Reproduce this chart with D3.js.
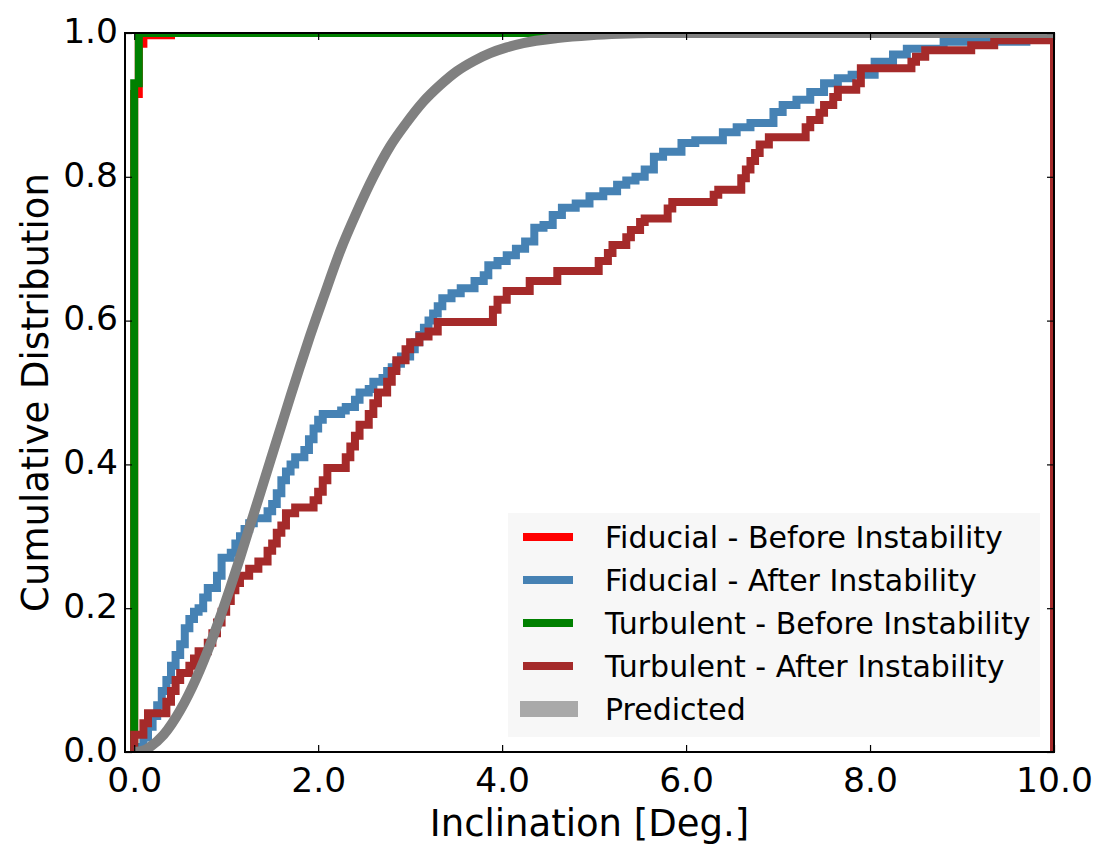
<!DOCTYPE html>
<html>
<head>
<meta charset="utf-8">
<script src="https://cdn.jsdelivr.net/npm/d3@7"></script>
<style>
  body { margin: 0; background: #fff; }
  svg { display: block; font-family: "DejaVu Sans", sans-serif; }
</style>
</head>
<body>
<svg width="1109" height="860"></svg>
<script>
// tick values
var xTicks = [0, 2, 4, 6, 8, 10];
var yTicks = [0, 0.2, 0.4, 0.6, 0.8, 1.0];

// series names (legend order)
var seriesNames = [
  'Fiducial - Before Instability',
  'Fiducial - After Instability',
  'Turbulent - Before Instability',
  'Turbulent - After Instability',
  'Predicted'
];

// cumulative step histograms: left bin edge where the value starts, and the value
var fidBeforeX = [0, 0.05, 0.1, 0.4];
var fidBeforeY = [0.915, 0.985, 0.997, 1.0];

var turbBeforeX = [0, 0.05];
var turbBeforeY = [0.93, 1.0];

var fidAfterX = [0, 0.1, 0.15, 0.2, 0.25, 0.3, 0.35, 0.4, 0.45, 0.5, 0.55, 0.6, 0.65, 0.7, 0.75, 0.8, 0.9, 0.95,
  1.05, 1.1, 1.15, 1.2, 1.25, 1.3, 1.45, 1.5, 1.55, 1.6, 1.65, 1.7, 1.75, 1.85, 1.9, 1.95, 2.0, 2.05,
  2.25, 2.3, 2.4, 2.45, 2.55, 2.6, 2.7, 2.75, 2.8, 2.85, 2.9, 3.0, 3.05, 3.1, 3.15, 3.2, 3.25, 3.3, 3.35,
  3.45, 3.55, 3.7, 3.8, 3.85, 3.95, 4.05, 4.15, 4.25, 4.35, 4.45, 4.55, 4.65, 4.8, 4.95, 5.1, 5.25, 5.35,
  5.45, 5.55, 5.65, 5.75, 5.95, 6.1, 6.4, 6.55, 6.7, 6.95, 7.05, 7.2, 7.35, 7.5, 7.65, 7.8, 8.05, 8.25,
  8.4, 8.8, 9.7];
var fidAfterY = [0.007, 0.02, 0.035, 0.05, 0.065, 0.085, 0.1, 0.12, 0.135, 0.15, 0.172, 0.185, 0.195, 0.2, 0.215, 0.228, 0.245, 0.27,
  0.277, 0.29, 0.3, 0.31, 0.318, 0.325, 0.335, 0.345, 0.36, 0.378, 0.39, 0.4, 0.41, 0.42, 0.435, 0.45, 0.462, 0.47,
  0.475, 0.48, 0.49, 0.5, 0.505, 0.515, 0.52, 0.53, 0.535, 0.54, 0.55, 0.56, 0.57, 0.58, 0.59, 0.6, 0.61, 0.62, 0.631,
  0.638, 0.645, 0.655, 0.663, 0.677, 0.683, 0.691, 0.7, 0.71, 0.729, 0.733, 0.747, 0.757, 0.763, 0.773, 0.78, 0.789, 0.795,
  0.8, 0.81, 0.828, 0.835, 0.847, 0.851, 0.862, 0.869, 0.875, 0.89, 0.9, 0.907, 0.918, 0.93, 0.937, 0.942, 0.96, 0.97,
  0.978, 0.988, 1.0];

var turbAfterX = [0, 0.1, 0.15, 0.35, 0.4, 0.45, 0.5, 0.6, 0.65, 0.7, 0.8, 0.85, 0.9, 0.95, 1.0, 1.05, 1.1, 1.15,
  1.25, 1.35, 1.45, 1.5, 1.55, 1.6, 1.65, 1.75, 1.95, 2.0, 2.05, 2.1, 2.3, 2.35, 2.4, 2.45, 2.55, 2.6, 2.65,
  2.75, 2.8, 2.85, 2.95, 3.0, 3.1, 3.2, 3.3, 3.9, 3.95, 4.05, 4.3, 4.6, 5.05, 5.15, 5.2, 5.35, 5.4, 5.5, 5.55,
  5.8, 5.85, 6.3, 6.35, 6.6, 6.65, 6.7, 6.75, 6.8, 6.9, 7.3, 7.35, 7.45, 7.5, 7.6, 7.65, 7.85, 7.9, 8.45, 8.5,
  8.6, 9.1, 9.35];
var turbAfterY = [0.024, 0.04, 0.054, 0.07, 0.085, 0.1, 0.11, 0.12, 0.13, 0.14, 0.152, 0.165, 0.18, 0.195, 0.21, 0.225, 0.235, 0.245,
  0.255, 0.265, 0.28, 0.29, 0.305, 0.315, 0.332, 0.34, 0.35, 0.362, 0.378, 0.395, 0.41, 0.425, 0.44, 0.455, 0.47, 0.485, 0.5,
  0.515, 0.53, 0.545, 0.56, 0.57, 0.578, 0.585, 0.598, 0.615, 0.629, 0.641, 0.655, 0.669, 0.683, 0.694, 0.705, 0.716, 0.726, 0.737, 0.742,
  0.756, 0.765, 0.775, 0.782, 0.798, 0.81, 0.822, 0.833, 0.845, 0.855, 0.869, 0.879, 0.889, 0.9, 0.911, 0.921, 0.93, 0.951, 0.96, 0.967,
  0.976, 0.983, 0.99];

// predicted curve
var predX = [0, 0.1, 0.17, 0.32, 0.5, 0.68, 0.83, 0.93, 1.04, 1.15, 1.26, 1.37, 1.48, 1.59, 1.7, 1.8, 1.91, 2.06,
  2.24, 2.42, 2.6, 2.78, 2.96, 3.14, 3.33, 3.51, 3.69, 3.87, 4.05, 4.23, 4.6, 4.96, 5.28, 5.6, 10];
var predY = [0, 0.002, 0.007, 0.024, 0.058, 0.104, 0.151, 0.186, 0.227, 0.27, 0.315, 0.36, 0.405, 0.45, 0.495, 0.535, 0.578, 0.633,
  0.697, 0.751, 0.8, 0.842, 0.875, 0.904, 0.928, 0.947, 0.961, 0.972, 0.98, 0.986, 0.993, 0.997, 0.999, 1.0, 1.0];

var colors = ['#ff0000', '#4682b4', '#008000', '#a52a2a', '#808080'];

var svg = d3.select('svg');
// plot box in pixels
var pLeft = 125, pRight = 1054, pTop = 33, pBottom = 752;

var x = d3.scaleLinear().domain([-0.1, 10]).range([pLeft, pRight]);
var y = d3.scaleLinear().domain([0, 1]).range([pBottom, pTop]);

svg.append('defs').append('clipPath').attr('id', 'plot')
  .append('rect')
  .attr('x', pLeft).attr('y', pTop)
  .attr('width', pRight - pLeft).attr('height', pBottom - pTop);

// matplotlib step histogram outline: up from 0 at the first edge, down to 0 at the last
function stepPoints(xs, ys) {
  var pts = [[xs[0], 0]];
  xs.forEach((v, i) => pts.push([v, ys[i]]));
  pts.push([10, ys[ys.length - 1]]);
  pts.push([10, 0]);
  return pts;
}

var stepLine = d3.line()
  .x(d => x(d[0]))
  .y(d => y(d[1]))
  .curve(d3.curveStepAfter);

var plot = svg.append('g').attr('clip-path', 'url(#plot)');

var steps = [
  stepPoints(fidBeforeX, fidBeforeY),
  stepPoints(fidAfterX, fidAfterY),
  stepPoints(turbBeforeX, turbBeforeY),
  stepPoints(turbAfterX, turbAfterY)
];

steps.forEach((pts, i) => {
  plot.append('path')
    .attr('d', stepLine(pts))
    .attr('fill', 'none')
    .attr('stroke', colors[i])
    .attr('stroke-width', 8)
    .attr('stroke-linejoin', 'miter');
});

var predLine = d3.line()
  .x(d => x(d[0]))
  .y(d => y(d[1]))
  .curve(d3.curveMonotoneX);

plot.append('path')
  .attr('d', predLine(predX.map((v, i) => [v, predY[i]])))
  .attr('fill', 'none')
  .attr('stroke', colors[4])
  .attr('stroke-width', 10);

// axes, ticks pointing inward
var fmt = d3.format('.1f');
var tickLen = 7;

var xAxis = svg.append('g')
  .attr('transform', `translate(0,${pBottom})`)
  .call(d3.axisBottom(x).tickValues(xTicks).tickFormat(fmt).tickSize(-tickLen).tickSizeOuter(0).tickPadding(16));
var yAxis = svg.append('g')
  .attr('transform', `translate(${pLeft},0)`)
  .call(d3.axisLeft(y).tickValues(yTicks).tickFormat(fmt).tickSize(-tickLen).tickSizeOuter(0).tickPadding(7));
svg.append('g')
  .attr('transform', `translate(0,${pTop})`)
  .call(d3.axisTop(x).tickValues(xTicks).tickFormat('').tickSize(-tickLen).tickSizeOuter(0));
svg.append('g')
  .attr('transform', `translate(${pRight},0)`)
  .call(d3.axisRight(y).tickValues(yTicks).tickFormat('').tickSize(-tickLen).tickSizeOuter(0));

svg.selectAll('.domain').remove();
svg.selectAll('.tick line').attr('stroke', '#000').attr('stroke-width', 1.2);
svg.selectAll('.tick text')
  .attr('fill', '#000')
  .style('font-family', '"DejaVu Sans", sans-serif')
  .style('font-size', '34.5px');
yAxis.selectAll('.tick text').attr('dy', '0.27em');

// frame
svg.append('rect')
  .attr('x', pLeft).attr('y', pTop)
  .attr('width', pRight - pLeft).attr('height', pBottom - pTop)
  .attr('fill', 'none')
  .attr('stroke', '#000')
  .attr('stroke-width', 2);

// axis labels
svg.append('text')
  .attr('x', (pLeft + pRight) / 2)
  .attr('y', 836)
  .attr('text-anchor', 'middle')
  .style('font-size', '37px')
  .text('Inclination [Deg.]');

svg.append('text')
  .attr('transform', `translate(48,${(pTop + pBottom) / 2}) rotate(-90)`)
  .attr('text-anchor', 'middle')
  .style('font-size', '37px')
  .text('Cumulative Distribution');

// legend
var legend = svg.append('g');
legend.append('rect')
  .attr('x', 508).attr('y', 513)
  .attr('width', 532).attr('height', 224)
  .attr('fill', '#f7f7f7');

var rowY = d3.scaleLinear().domain([0, 4]).range([537, 709]);

seriesNames.forEach((name, i) => {
  var g = legend.append('g').attr('transform', `translate(0,${rowY(i)})`);
  if (i < 4) {
    g.append('line')
      .attr('x1', 523).attr('x2', 573)
      .attr('stroke', colors[i])
      .attr('stroke-width', 8);
  } else {
    g.append('rect')
      .attr('x', 520).attr('y', -8)
      .attr('width', 58).attr('height', 16)
      .attr('fill', '#a9a9a9');
  }
  g.append('text')
    .attr('x', 605)
    .attr('dy', '0.35em')
    .style('font-size', '30px')
    .text(name);
});
</script>
</body>
</html>
